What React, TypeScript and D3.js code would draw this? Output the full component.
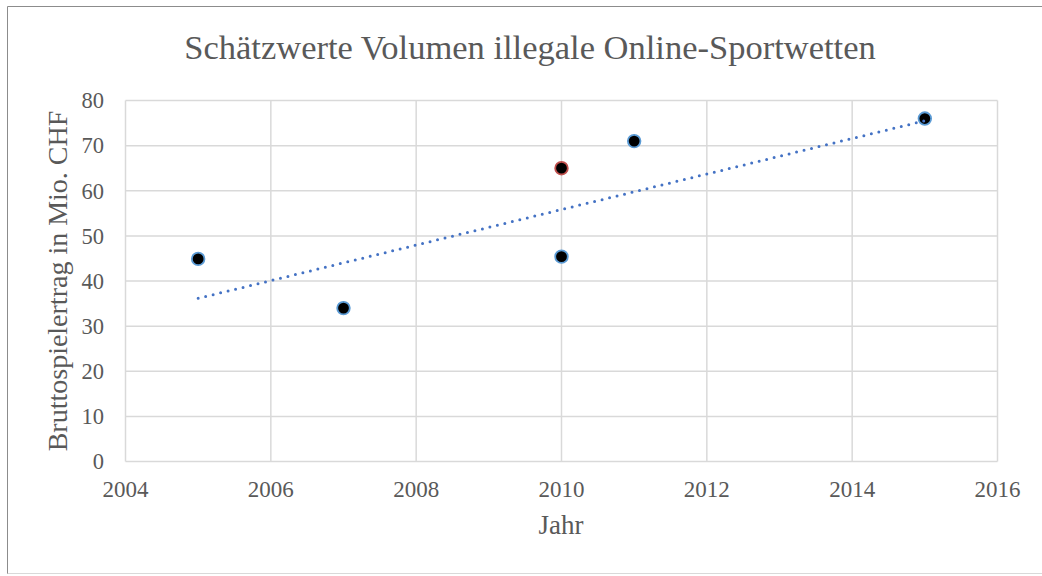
import React from "react";
import * as d3 from "d3";

const title = "Schätzwerte Volumen illegale Online-Sportwetten";
const xLabel = "Jahr";
const yLabel = "Bruttospielertrag in Mio. CHF";

const years = [2005, 2007, 2010, 2011, 2015];
const values = [44.9, 34, 45.4, 71, 76];
const redYears = [2010];
const redValues = [65];

const xTicks = [2004, 2006, 2008, 2010, 2012, 2014, 2016];
const yTicks = [0, 10, 20, 30, 40, 50, 60, 70, 80];

const W = 1042;
const H = 576;
const left = 125.5;
const right = 997.5;
const top = 100.5;
const bottom = 461.5;

export default function App() {
  const x = d3.scaleLinear().domain([2004, 2016]).range([left, right]);
  const y = d3.scaleLinear().domain([0, 80]).range([bottom, top]);

  // linear regression trendline on main series
  const n = years.length;
  const mx = d3.mean(years) as number;
  const my = d3.mean(values) as number;
  let sxy = 0, sxx = 0;
  for (let i = 0; i < n; i++) {
    sxy += (years[i] - mx) * (values[i] - my);
    sxx += (years[i] - mx) ** 2;
  }
  const slope = sxy / sxx;
  const icpt = my - slope * mx;
  const x0 = d3.min(years) as number;
  const x1 = d3.max(years) as number;
  const trend = d3.line<number>().x((d) => x(d)).y((d) => y(icpt + slope * d))([x0, x1]) as string;

  const font = "'Liberation Serif', 'Times New Roman', serif";
  const txt = "#595959";

  return (
    <svg width={W} height={H} style={{ position: "absolute", left: 0, top: 0, display: "block" }}>
      <rect x={0} y={0} width={W} height={H} fill="#fff" />
      <line x1={7.5} y1={6.5} x2={1042} y2={6.5} stroke="#8c8c8c" />
      <line x1={7.5} y1={6.5} x2={7.5} y2={574} stroke="#8c8c8c" />
      <line x1={7.5} y1={573.5} x2={1042} y2={573.5} stroke="#d9d9d9" />
      <text x={530} y={59} textAnchor="middle" fontFamily={font} fontSize={34.5} fill={txt}>
        {title}
      </text>
      {yTicks.map((t) => (
        <line key={"gy" + t} x1={left} x2={right} y1={y(t)} y2={y(t)} stroke="#d9d9d9" strokeWidth={1.5} />
      ))}
      {xTicks.map((t) => (
        <line key={"gx" + t} x1={x(t)} x2={x(t)} y1={top} y2={bottom} stroke="#d9d9d9" strokeWidth={1.5} />
      ))}
      {yTicks.map((t) => (
        <text key={"ty" + t} x={104} y={y(t) + 7.8} textAnchor="end" fontFamily={font} fontSize={22.5} fill={txt}>
          {t}
        </text>
      ))}
      {xTicks.map((t) => (
        <text key={"tx" + t} x={x(t)} y={497} textAnchor="middle" fontFamily={font} fontSize={23} fill={txt}>
          {t}
        </text>
      ))}
      <text x={561} y={534} textAnchor="middle" fontFamily={font} fontSize={27} fill={txt}>
        {xLabel}
      </text>
      <text
        transform={`translate(67, ${(top + bottom) / 2}) rotate(-90)`}
        textAnchor="middle"
        fontFamily={font}
        fontSize={28}
        fill={txt}
      >
        {yLabel}
      </text>
      {years.map((d, i) => (
        <circle key={"p" + i} cx={x(d)} cy={y(values[i])} r={6.3} fill="#000" stroke="#5B9BD5" strokeWidth={1.8} />
      ))}
      {redYears.map((d, i) => (
        <circle key={"r" + i} cx={x(d)} cy={y(redValues[i])} r={6.3} fill="#000" stroke="#C0504D" strokeWidth={1.8} />
      ))}
      <path d={trend} fill="none" stroke="#4472C4" strokeWidth={3} strokeLinecap="round" strokeDasharray="0 7.7" />
    </svg>
  );
}
